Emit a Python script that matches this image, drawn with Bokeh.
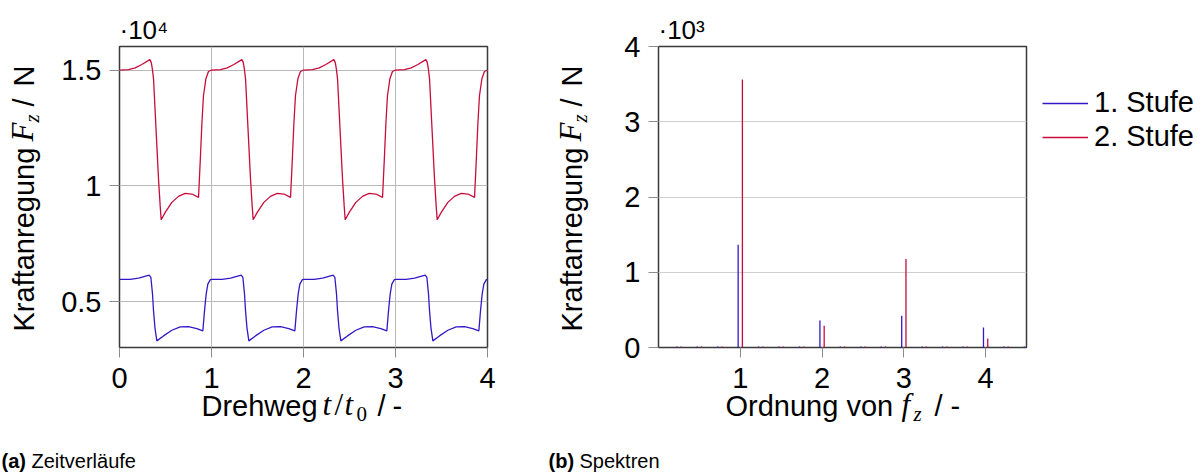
import math
from bokeh.plotting import figure
from bokeh.layouts import row, column
from bokeh.models import ColumnDataSource, FixedTicker, Label, Legend, LegendItem, Range1d
from bokeh.transform import dodge
from bokeh.embed import file_html
from bokeh.resources import INLINE

# ---------------- data ----------------
# (a) time signal: one period (t/t0 in [0,1)), the signal repeats every period
period_t_stufe2 = [0.0, 0.098, 0.171, 0.243, 0.33, 0.345, 0.357, 0.37, 0.388, 0.406, 0.424, 0.442, 0.453,
                   0.497, 0.569, 0.641, 0.714, 0.787, 0.859, 0.877, 0.896, 0.913, 0.939, 0.967]
period_f_stufe2 = [15000, 15020, 15095, 15240, 15450, 15330, 15050, 14620, 13180, 11740, 10300, 9150, 8540,
                   8860, 9290, 9550, 9680, 9650, 9505, 11020, 12740, 13900, 14620, 14935]
period_t_stufe1 = [0.0, 0.116, 0.207, 0.323, 0.341, 0.359, 0.37, 0.385, 0.406, 0.478, 0.569, 0.66, 0.75,
                   0.841, 0.906, 0.924, 0.942, 0.96, 0.986]
period_f_stufe1 = [5970, 5965, 6020, 6150, 6050, 5330, 4610, 3890, 3315, 3530, 3775, 3920, 3930,
                   3845, 3745, 4610, 5330, 5765, 5950]
n_periods = 4

# (b) spectra: orders and amplitudes
orders = [0.25, 0.5, 0.75, 1.0, 1.25, 1.5, 1.75, 2.0, 2.25, 2.5, 2.75, 3.0, 3.25, 3.5, 3.75, 4.0, 4.25, 4.5]
amp_stufe1 = [12, 12, 12, 1366, 12, 12, 12, 359, 12, 12, 12, 421, 12, 12, 12, 266, 12, 12]
amp_stufe2 = [12, 12, 12, 3560, 12, 12, 12, 288, 12, 12, 12, 1175, 12, 12, 12, 120, 12, 12]

x_ticks_a = [0, 1, 2, 3, 4]
y_ticks_a = [5000, 10000, 15000]
y_labels_a = ["0.5", "1", "1.5"]
x_ticks_b = [1, 2, 3, 4]
y_ticks_b = [0, 1000, 2000, 3000, 4000]
y_labels_b = ["0", "1", "2", "3", "4"]
series_names = ["1. Stufe", "2. Stufe"]


def tile(ts, fs, n):
    tt = [k + t for k in range(n) for t in ts] + [float(n)]
    ff = [f for _ in range(n) for f in fs] + [fs[0]]
    return tt, ff


t1, f1 = tile(period_t_stufe1, period_f_stufe1, n_periods)
t2, f2 = tile(period_t_stufe2, period_f_stufe2, n_periods)

# ---------------- style / layout ----------------
BLUE = "#3418c8"
RED = "#c80c3c"
SANS = "Liberation Sans"
SERIF = "Liberation Serif"
FS = 29
TOTAL_W, TOTAL_H = 1202, 473
ROW_H = 394          # height of the row holding the two plots
FT, FH = 46, 301     # frame top / height
BOT = ROW_H - FT - FH
BASE_K = 0.34        # baseline correction (fraction of font size)
OVERLAP = 30         # bottom text strip overlaps the plot row (transparent)


def no_align(f):
    if "frame_align" in f.properties():
        f.frame_align = False


def text_fig(w, h, transparent=False):
    f = figure(width=w, height=h, output_backend="svg", toolbar_location=None, title=None,
               x_axis_location=None, y_axis_location=None,
               x_range=Range1d(0, 1), y_range=Range1d(0, 1),
               min_border=0, min_border_left=0, min_border_right=0,
               min_border_top=0, min_border_bottom=0)
    f.outline_line_color = None
    f.xgrid.grid_line_color = None
    f.ygrid.grid_line_color = None
    if transparent:
        f.background_fill_alpha = 0
        f.border_fill_alpha = 0
    else:
        f.background_fill_color = "white"
        f.border_fill_color = "white"
    no_align(f)
    return f


def put(f, X0, Y0, h, X, Y, text, size=FS, font=SANS, style="normal", rotated=False):
    # X, Y: baseline start in page pixels; (X0, Y0): page position of the figure's top-left
    d = BASE_K * size
    if rotated:
        X, Y, angle = X - d, Y, math.pi / 2
    else:
        X, Y, angle = X, Y - d, 0.0
    f.add_layout(Label(x=X - X0, y=(Y0 + h) - Y, x_units="screen", y_units="screen", text=text,
                       text_font=font, text_font_size=f"{size}px", text_font_style=style,
                       angle=angle, text_align="left", text_baseline="alphabetic",
                       text_color="black"))


def ylabel(f, X0, X):
    put(f, X0, 0, ROW_H, X, 331, "Kraftanregung", rotated=True)
    put(f, X0, 0, ROW_H, X, 141, "F", size=31, font=SERIF, style="italic", rotated=True)
    put(f, X0, 0, ROW_H, X + 6, 122, "z", size=21, font=SERIF, style="italic", rotated=True)
    put(f, X0, 0, ROW_H, X, 106, "/", rotated=True)
    put(f, X0, 0, ROW_H, X, 86, "N", rotated=True)


def style_axes(p, grid_x, grid_color, exp_text):
    no_align(p)
    p.outline_line_color = "#3a3a3a"
    p.outline_line_width = 1.5
    p.background_fill_color = "white"
    p.border_fill_color = "white"
    for ax in (p.xaxis, p.yaxis):
        ax.axis_line_color = None
        ax.major_tick_line_color = "#8c8c8c"
        ax.major_tick_out = 10
        ax.major_tick_in = 0
        ax.minor_tick_line_color = None
        ax.major_label_text_font = SANS
        ax.major_label_text_font_size = f"{FS}px"
        ax.major_label_text_color = "black"
    p.xaxis.major_label_standoff = 10
    p.yaxis.major_label_standoff = 8
    p.xgrid.grid_line_color = grid_color if grid_x else None
    p.ygrid.grid_line_color = grid_color
    p.xgrid.grid_line_width = 1
    p.ygrid.grid_line_width = 1
    p.title.text = exp_text
    p.title.align = "left"
    p.title.offset = 0
    p.title.standoff = 3
    p.title.text_font = SANS
    p.title.text_font_size = "26px"
    p.title.text_font_style = "normal"
    p.title.text_color = "black"


# ---------------- (a) ----------------
YLA_W = 58
W1 = 540 - YLA_W
FL1 = 119 - YLA_W
p1 = figure(width=W1, height=ROW_H, output_backend="svg", toolbar_location=None,
            x_range=Range1d(0, 4), y_range=Range1d(3030, 16015),
            min_border_left=FL1, min_border_right=W1 - FL1 - 368,
            min_border_top=FT, min_border_bottom=BOT)
style_axes(p1, True, "#b9b9b9", "\u00b710\u2074")
p1.xaxis.ticker = FixedTicker(ticks=x_ticks_a)
p1.yaxis.ticker = FixedTicker(ticks=y_ticks_a)
p1.yaxis.major_label_overrides = {t: l for t, l in zip(y_ticks_a, y_labels_a)}
p1.line(t1, f1, color=BLUE, line_width=1.3)
p1.line(t2, f2, color=RED, line_width=1.3)

yla = text_fig(YLA_W, ROW_H)
ylabel(yla, 0, 33)

# ---------------- (b) ----------------
YLB_X0 = 540
YLB_W = 60
P2_X0 = YLB_X0 + YLB_W
P2_X1 = 1030
W2 = P2_X1 - P2_X0
FL2 = 658 - P2_X0
p2 = figure(width=W2, height=ROW_H, output_backend="svg", toolbar_location=None,
            x_range=Range1d(0, 4.5), y_range=Range1d(0, 4000),
            min_border_left=FL2, min_border_right=W2 - FL2 - 368,
            min_border_top=FT, min_border_bottom=BOT)
style_axes(p2, False, "#d0d0d0", "\u00b710\u00b3")
p2.xaxis.ticker = FixedTicker(ticks=x_ticks_b)
p2.yaxis.ticker = FixedTicker(ticks=y_ticks_b)
p2.yaxis.major_label_overrides = {t: l for t, l in zip(y_ticks_b, y_labels_b)}

src = ColumnDataSource(dict(order=orders, a1=amp_stufe1, a2=amp_stufe2, zero=[0] * len(orders)))
p2.segment(x0=dodge("order", -0.026, range=p2.x_range), y0="zero",
           x1=dodge("order", -0.026, range=p2.x_range), y1="a1",
           source=src, line_color=BLUE, line_width=1.3)
p2.segment(x0=dodge("order", 0.026, range=p2.x_range), y0="zero",
           x1=dodge("order", 0.026, range=p2.x_range), y1="a2",
           source=src, line_color=RED, line_width=1.3)

ylb = text_fig(YLB_W, ROW_H)
ylabel(ylb, YLB_X0, 581)

# legend panel (to the right of plot b); the key renderers hold one point outside the view
LEG_W = TOTAL_W - P2_X1
lf = text_fig(LEG_W, ROW_H)
key_src = ColumnDataSource(dict(x=[10.0], y=[10.0]))
k1 = lf.line("x", "y", source=key_src, line_color=BLUE, line_width=1.3)
k2 = lf.line("x", "y", source=key_src, line_color=RED, line_width=1.3)
leg = Legend(items=[LegendItem(label=series_names[0], renderers=[k1]),
                    LegendItem(label=series_names[1], renderers=[k2])],
             location=(1042 - P2_X1, ROW_H - 153), orientation="vertical",
             label_text_font=SANS, label_text_font_size=f"{FS}px", label_text_color="black",
             glyph_width=46, glyph_height=28, label_height=28, spacing=1,
             padding=0, margin=0, label_standoff=6,
             border_line_color=None, background_fill_alpha=0)
lf.add_layout(leg)

# ---------------- bottom texts (transparent strip overlapping the plot row) ----------------
Y0 = ROW_H - OVERLAP
BOT_H = TOTAL_H - Y0
bt = text_fig(TOTAL_W, BOT_H, transparent=True)
bt.margin = (-OVERLAP, 0, 0, 0)
put(bt, 0, Y0, BOT_H, 201, 415, "Drehweg")
put(bt, 0, Y0, BOT_H, 322, 415, "t", size=31, font=SERIF, style="italic")
put(bt, 0, Y0, BOT_H, 334, 415, "/", size=31, font=SERIF)
put(bt, 0, Y0, BOT_H, 344, 415, "t", size=31, font=SERIF, style="italic")
put(bt, 0, Y0, BOT_H, 356, 421, "0", size=21, font=SERIF)
put(bt, 0, Y0, BOT_H, 377, 415, "/")
put(bt, 0, Y0, BOT_H, 392, 415, "-")
put(bt, 0, Y0, BOT_H, 725, 415, "Ordnung von")
put(bt, 0, Y0, BOT_H, 901, 415, "f", size=31, font=SERIF, style="italic")
put(bt, 0, Y0, BOT_H, 913, 421, "z", size=21, font=SERIF, style="italic")
put(bt, 0, Y0, BOT_H, 934, 415, "/")
put(bt, 0, Y0, BOT_H, 950, 415, "-")
put(bt, 0, Y0, BOT_H, 1, 467, "(a)", size=20, style="bold")
put(bt, 0, Y0, BOT_H, 31, 467, "Zeitverl\u00e4ufe", size=20)
put(bt, 0, Y0, BOT_H, 548, 467, "(b)", size=20, style="bold")
put(bt, 0, Y0, BOT_H, 579, 467, "Spektren", size=20)

layout = column(row(yla, p1, ylb, p2, lf), bt)
open("out.html", "w").write(file_html(layout, INLINE))
